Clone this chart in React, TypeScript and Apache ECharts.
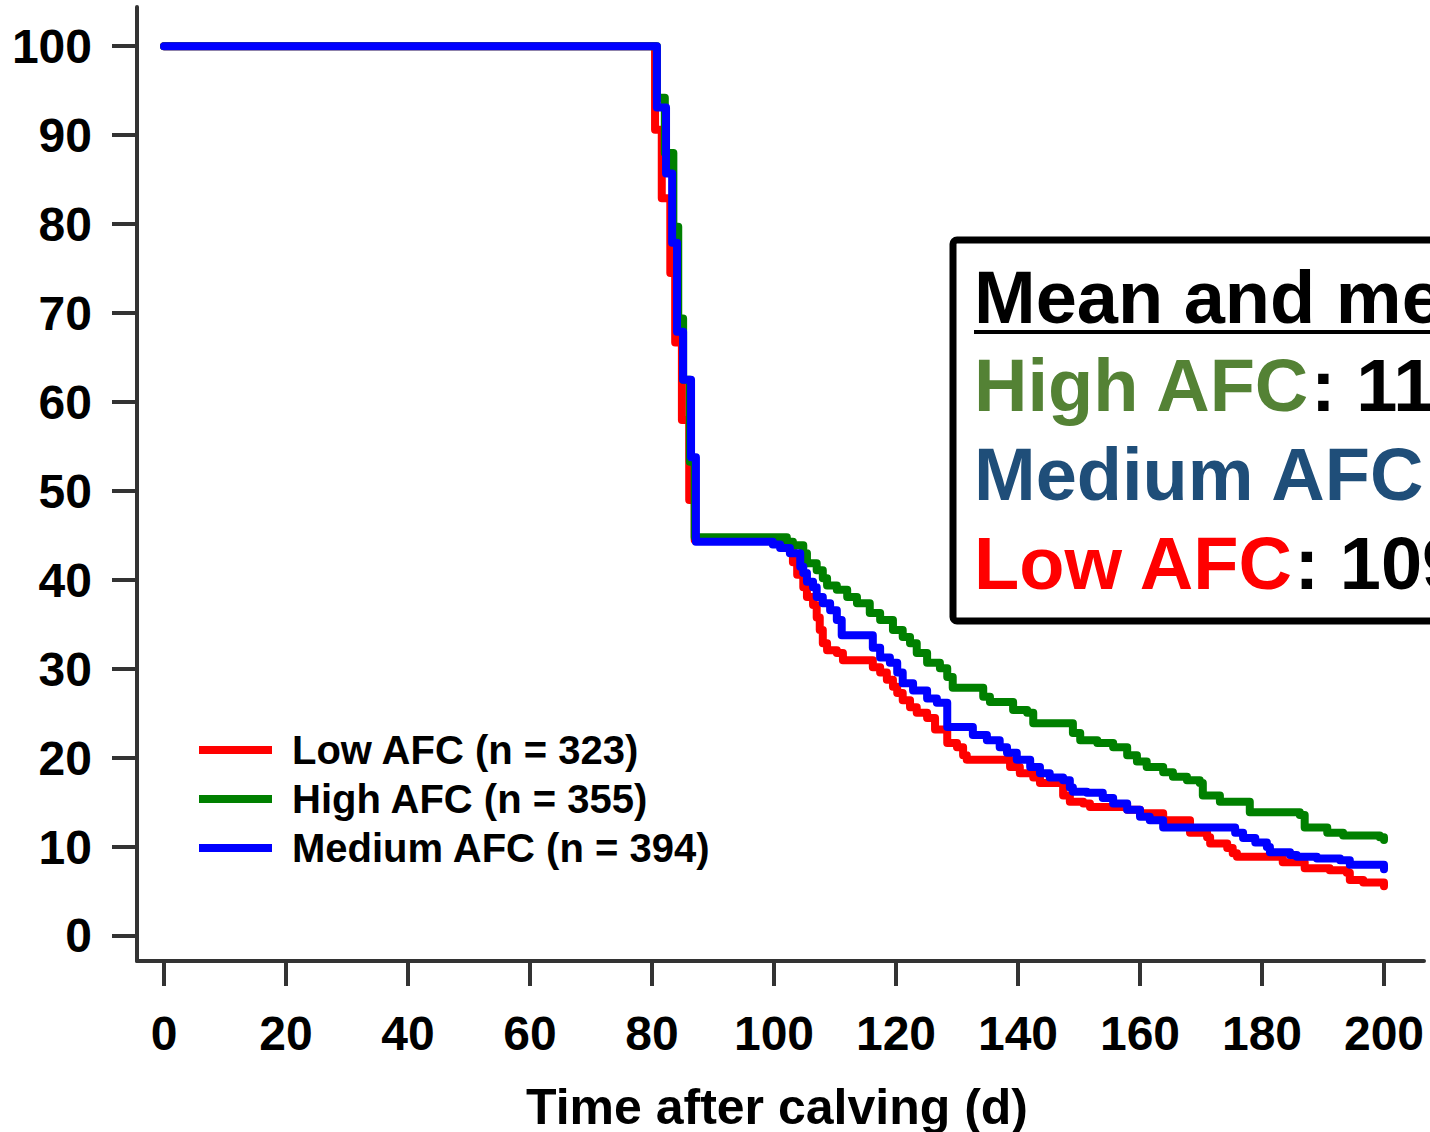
import React, { useEffect, useRef } from "react";
import * as echarts from "echarts";

const FONT = "'Liberation Sans', Arial, Helvetica, sans-serif";

const xTicks = [0, 20, 40, 60, 80, 100, 120, 140, 160, 180, 200];
const yTicks = [0, 10, 20, 30, 40, 50, 60, 70, 80, 90, 100];

const seriesNames = ["Low AFC (n = 323)", "High AFC (n = 355)", "Medium AFC (n = 394)"];
const seriesColors = ["#ff0000", "#008000", "#0000ff"];

const lowT = [0, 80.5, 81.6, 83, 83.8, 84.9, 86.1, 87, 102.1, 103.1, 103.8, 104.8, 105.4, 106.4, 107, 107.5, 108, 108.7, 110.3, 111.3, 116.2, 117.4, 118.5, 119.5, 120.2, 121.1, 122.3, 123.4, 125.1, 126.4, 128.4, 130, 131, 131.6, 138.7, 140.3, 142.5, 143.6, 147.4, 148.5, 150.7, 151.8, 157.9, 160, 163.8, 168.2, 171, 171.5, 174.3, 175.2, 175.9, 183.4, 187, 191.1, 193.9, 194.4, 196.6, 200];
const lowS = [100, 90.6, 82.9, 74.5, 66.7, 58, 49, 44.5, 44, 42, 40.6, 39.2, 38.1, 37.2, 35.8, 34.4, 32.9, 32.1, 31.8, 31, 30.2, 29.6, 28.8, 28, 27.3, 26.5, 25.7, 25.1, 24.5, 23.2, 21.7, 21.2, 20.3, 19.8, 19, 18.3, 17.8, 17.2, 15.8, 15.1, 14.9, 14.5, 14.2, 13.8, 13, 11.6, 11.1, 10.4, 9.9, 9.3, 8.9, 8.3, 7.6, 7.4, 7.1, 6.3, 6, 5.6];

const highT = [0, 80.8, 82.1, 83.5, 84.3, 85.1, 86.2, 87, 102.1, 103.1, 104.8, 105.4, 107, 108, 108.7, 110.3, 112, 113.6, 115.7, 117.4, 119.5, 121.1, 122.3, 123.4, 125.1, 127.2, 128.4, 129.3, 134.3, 135.4, 139.2, 141.5, 142.5, 149, 150.2, 153, 155.6, 157.9, 159.5, 161.1, 163.8, 165.4, 167.7, 169.8, 170.3, 173.1, 178, 186.2, 187, 190.7, 193.3, 199.3, 200];
const highS = [100, 94.2, 88, 79.7, 69.4, 62.5, 53.3, 44.8, 44.3, 43.9, 43, 41.9, 41.1, 40.2, 39.4, 38.9, 38.1, 37.4, 36.3, 35.5, 34.4, 33.6, 32.9, 31.8, 30.7, 30.1, 29.1, 27.9, 26.9, 26.3, 25.4, 25.1, 23.9, 22.8, 22, 21.7, 21.2, 20.3, 19.6, 19, 18.4, 17.9, 17.5, 17.2, 15.8, 15.1, 13.9, 13.6, 12.2, 11.6, 11.3, 11.1, 10.8];

const medT = [0, 80.8, 82.3, 83.3, 84.1, 85.1, 86.4, 87.2, 99.8, 101, 102.6, 104.3, 104.8, 105.4, 106.4, 107, 108, 109.2, 110.3, 111.1, 116.2, 117.4, 119, 120.2, 121.1, 122.8, 125.1, 126.7, 128.4, 132.6, 134.9, 137, 138.2, 139.8, 142, 143.6, 145.2, 147.4, 148.5, 149, 151.3, 153.9, 155.6, 157.9, 160, 161.6, 163.8, 175.6, 176.9, 178.9, 180.8, 181.3, 184.6, 185.7, 189, 192.8, 194.4, 200];
const medS = [100, 93.1, 85.7, 77.9, 67.9, 62.5, 53.8, 44.3, 44, 43.6, 43, 41.5, 40.8, 39.8, 39.2, 38.1, 37.4, 36.6, 35.5, 33.8, 32.4, 31.3, 30.7, 29.6, 28.4, 27.6, 26.7, 26.2, 23.5, 22.6, 22, 21.2, 20.6, 19.8, 19, 18.3, 17.8, 17.5, 16.7, 16.2, 16.1, 15.5, 14.9, 14.2, 13.4, 13, 12.2, 11.6, 11, 10.5, 10, 9.4, 9.1, 8.9, 8.7, 8.5, 8, 7.5];

const xAxisTitle = "Time after calving (d)";
const boxTitle = "Mean and median";
const boxRows = [
  { label: "High AFC", rest: ": 11", color: "#548235" },
  { label: "Medium AFC", rest: "", color: "#1f4e79" },
  { label: "Low AFC", rest: ": 109", color: "#ff0000" },
];

const zip = (t: number[], s: number[]) => t.map((v, i) => [v, s[i]]);

export default function App() {
  const ref = useRef<HTMLDivElement>(null);
  useEffect(() => {
    document.body.style.margin = "0";
    const chart = echarts.init(ref.current!, null, { renderer: "svg" });
    const data = [zip(lowT, lowS), zip(highT, highS), zip(medT, medS)];
    const BOX_FS = 74;
    chart.setOption({
      animation: false,
      backgroundColor: "#ffffff",
      grid: {
        left: 137,
        right: 6,
        top: 7,
        bottom: 171,
        containLabel: false,
        outerBoundsMode: "none",
      },
      xAxis: {
        type: "value",
        min: -4.43,
        max: 206.56,
        axisLine: { show: true, onZero: false, lineStyle: { color: "#333333", width: 4 } },
        axisTick: { show: true, length: 25, lineStyle: { color: "#333333", width: 4 }, customValues: xTicks },
        axisLabel: {
          customValues: xTicks,
          fontSize: 48,
          fontWeight: "bold",
          color: "#000",
          fontFamily: FONT,
          margin: 48,
        },
        splitLine: { show: false },
      },
      yAxis: {
        type: "value",
        min: -2.81,
        max: 104.4,
        axisLine: { show: true, onZero: false, lineStyle: { color: "#333333", width: 4 } },
        axisTick: { show: true, length: 25, lineStyle: { color: "#333333", width: 4 }, customValues: yTicks },
        axisLabel: {
          customValues: yTicks,
          fontSize: 48,
          fontWeight: "bold",
          color: "#000",
          fontFamily: FONT,
          margin: 45,
        },
        splitLine: { show: false },
      },
      legend: {
        orient: "vertical",
        left: 199,
        top: 730,
        padding: 0,
        itemWidth: 73,
        itemHeight: 8,
        itemGap: 9,
        icon: "rect",
        textStyle: {
          fontSize: 40,
          fontWeight: "bold",
          color: "#000",
          fontFamily: FONT,
          padding: [0, 0, 0, 15],
          lineHeight: 40,
        },
        data: seriesNames,
      },
      series: seriesNames.map((name, i) => ({
        name,
        type: "line",
        step: "end",
        symbol: "none",
        data: data[i],
        color: seriesColors[i],
        lineStyle: { color: seriesColors[i], width: 8, cap: "round", join: "round" },
        z: 2 + i,
      })),
      graphic: [
        {
          type: "text",
          x: 777,
          y: 1107,
          style: {
            text: xAxisTitle,
            fontSize: 50,
            fontWeight: "bold",
            fontFamily: FONT,
            fill: "#000",
            align: "center",
            verticalAlign: "middle",
          },
        },
        {
          type: "group",
          z: 100,
          children: [
            {
              type: "rect",
              shape: { x: 953, y: 240, width: 700, height: 381, r: 4 },
              style: { fill: "#ffffff", stroke: "#000000", lineWidth: 7 },
            },
            {
              type: "text",
              x: 974,
              y: 297,
              style: {
                text: boxTitle,
                fontSize: BOX_FS,
                fontWeight: "bold",
                fontFamily: FONT,
                fill: "#000",
                align: "left",
                verticalAlign: "middle",
              },
            },
            {
              type: "line",
              shape: { x1: 974, y1: 332, x2: 1600, y2: 332 },
              style: { stroke: "#000", lineWidth: 4 },
            },
            ...boxRows.map((r, i) => ({
              type: "text",
              x: 974,
              y: 385 + i * 89,
              style: {
                text: `{c|${r.label}}{k|${r.rest}}`,
                fontSize: BOX_FS,
                fontWeight: "bold",
                fontFamily: FONT,
                fill: "#000",
                align: "left",
                verticalAlign: "middle",
                rich: {
                  c: { fill: r.color, fontSize: BOX_FS, fontWeight: "bold", fontFamily: FONT },
                  k: { fill: "#000", fontSize: BOX_FS, fontWeight: "bold", fontFamily: FONT },
                },
              },
            })),
          ],
        },
      ],
    });
    return () => chart.dispose();
  }, []);
  return <div ref={ref} style={{ width: 1430, height: 1132 }} />;
}
